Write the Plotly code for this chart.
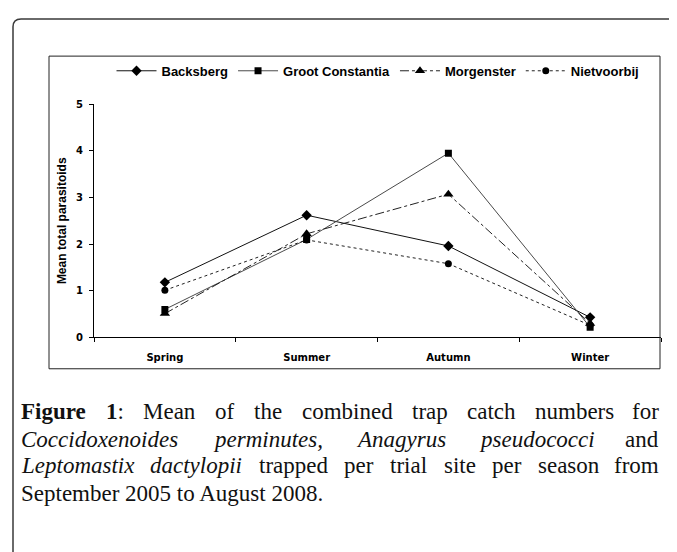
import plotly.graph_objects as go

W, H = 677, 552
OFF = 8  # the page body adds an 8px margin around the figure

seasons = ["Spring", "Summer", "Autumn", "Winter"]
backsberg = [1.18, 2.62, 1.96, 0.43]
groot_constantia = [0.60, 2.10, 3.95, 0.22]
morgenster = [0.51, 2.22, 3.07, 0.30]
nietvoorbij = [1.01, 2.09, 1.58, 0.26]

# caption, one list of (word, style) per line; style b=bold, i=italic, r=regular
caption = [
    [("Figure", "b"), ("1:", "b1"), ("Mean", "r"), ("of", "r"), ("the", "r"), ("combined", "r"),
     ("trap", "r"), ("catch", "r"), ("numbers", "r"), ("for", "r")],
    [("Coccidoxenoides", "i"), ("perminutes,", "i"), ("Anagyrus", "i"), ("pseudococci", "i"), ("and", "r")],
    [("Leptomastix", "i"), ("dactylopii", "i"), ("trapped", "r"), ("per", "r"), ("trial", "r"),
     ("site", "r"), ("per", "r"), ("season", "r"), ("from", "r")],
    [("September 2005 to August 2008.", "r")],
]

# Times / Liberation Serif advance widths (per 1000 em), used to justify the caption
ROMAN = dict(zip("abcdefghijklmnopqrstuvwxyz", [444, 500, 444, 500, 444, 333, 500, 500, 278, 278, 500, 278, 778,
                                                 500, 500, 500, 500, 333, 389, 278, 500, 500, 722, 500, 500, 444]))
ITALIC = dict(zip("abcdefghijklmnopqrstuvwxyz", [500, 500, 444, 500, 444, 278, 500, 500, 278, 278, 444, 278, 722,
                                                  500, 500, 500, 500, 389, 389, 278, 500, 444, 667, 444, 444, 389]))
BOLD = dict(zip("abcdefghijklmnopqrstuvwxyz", [500, 556, 444, 556, 444, 333, 500, 556, 278, 333, 556, 278, 833,
                                               556, 500, 556, 556, 444, 389, 333, 556, 500, 722, 500, 500, 444]))
CAPS = {"F": 611, "M": 889, "C": 667, "A": 611, "L": 556, "S": 556}
PUNCT = {",": 250, ".": 250, ":": 278, "1": 500, " ": 250}


def word_width(word, style, size):
    table = {"b": BOLD, "b1": BOLD, "i": ITALIC}.get(style, ROMAN)
    return sum(table.get(c, CAPS.get(c, PUNCT.get(c, 500))) for c in word) * size / 1000


def px(x):
    return (x - OFF) / W


def py(y):
    return 1 - (y - OFF) / H


fig = go.Figure()

series = [
    ("Backsberg", backsberg, "diamond", "solid", "#111111", 8),
    ("Groot Constantia", groot_constantia, "square", "solid", "#4a4a4a", 7),
    ("Morgenster", morgenster, "triangle-up", "dashdot", "#222222", 9),
    ("Nietvoorbij", nietvoorbij, "circle", "dot", "#222222", 7),
]
for name, vals, sym, dash, col, size in series:
    fig.add_trace(go.Scatter(
        x=seasons, y=vals, name=name, mode="lines+markers",
        line=dict(color=col, width=1, dash=dash),
        marker=dict(symbol=sym, size=size, color="black"),
    ))

# outer rounded frame (runs off the right and bottom edges) and inner chart box
fig.add_shape(type="path", xref="paper", yref="paper",
              path=f"M {px(13)},{py(580)} L {px(13)},{py(22)} Q {px(13)},{py(14)} {px(21)},{py(14)} L {px(720)},{py(14)}",
              line=dict(color="#3a3a3a", width=1.5))
fig.add_shape(type="rect", xref="paper", yref="paper",
              x0=px(49), x1=px(660), y0=py(371), y1=py(52),
              line=dict(color="#222222", width=1))

FS = 23
LEFT, RIGHT = 20, 660
lines_y = [415, 443, 470, 498]
for i, words in enumerate(caption):
    widths = [word_width(w, s, FS) for w, s in words]
    gap = (RIGHT - LEFT - sum(widths)) / (len(words) - 1) if len(words) > 1 and i < 3 else 0
    x = LEFT
    for j, ((word, style), wd) in enumerate(zip(words, widths)):
        if style == "b":
            text = f"<b>{word}</b>"
        elif style == "b1":
            text = "<b>1</b>:"
        elif style == "i":
            text = f"<i>{word}</i>"
        else:
            text = word
        last = j == len(words) - 1 and gap > 0
        fig.add_annotation(text=text, x=px(RIGHT if last else x), y=py(lines_y[i]),
                           xref="paper", yref="paper", xanchor="right" if last else "left",
                           yanchor="middle", showarrow=False, borderpad=0,
                           font=dict(family="Liberation Serif", size=FS, color="#111111"))
        x += wd + gap

fig.update_layout(
    width=W, height=H,
    margin=dict(l=0, r=0, t=0, b=0),
    paper_bgcolor="white", plot_bgcolor="white",
    font=dict(family="Liberation Sans", color="black"),
    showlegend=True,
    legend=dict(orientation="h", x=px(378), xanchor="center", y=py(67), yanchor="middle",
                font=dict(size=13, weight="bold"), bgcolor="rgba(0,0,0,0)",
                itemwidth=40, tracegroupgap=0),
    xaxis=dict(domain=[px(94), px(661)], type="category", range=[-0.5, 3.5], tickson="boundaries",
               showline=True, linecolor="black", linewidth=1, ticks="outside", ticklen=4,
               tickcolor="black", showgrid=False, zeroline=False, ticklabelstandoff=11,
               tickfont=dict(family="DejaVu Sans", size=10, weight="bold")),
    yaxis=dict(domain=[py(339), py(101)], range=[0, 5], dtick=1,
               showline=True, linecolor="black", linewidth=1, ticks="outside", ticklen=4,
               tickcolor="black", showgrid=False, zeroline=False, ticklabelstandoff=4,
               tickfont=dict(family="DejaVu Sans", size=10, weight="bold"),
               title=dict(text="Mean total parasitoids", standoff=6,
                          font=dict(family="Liberation Sans", size=12, weight="bold"))),
)

fig.write_html("out.html")
